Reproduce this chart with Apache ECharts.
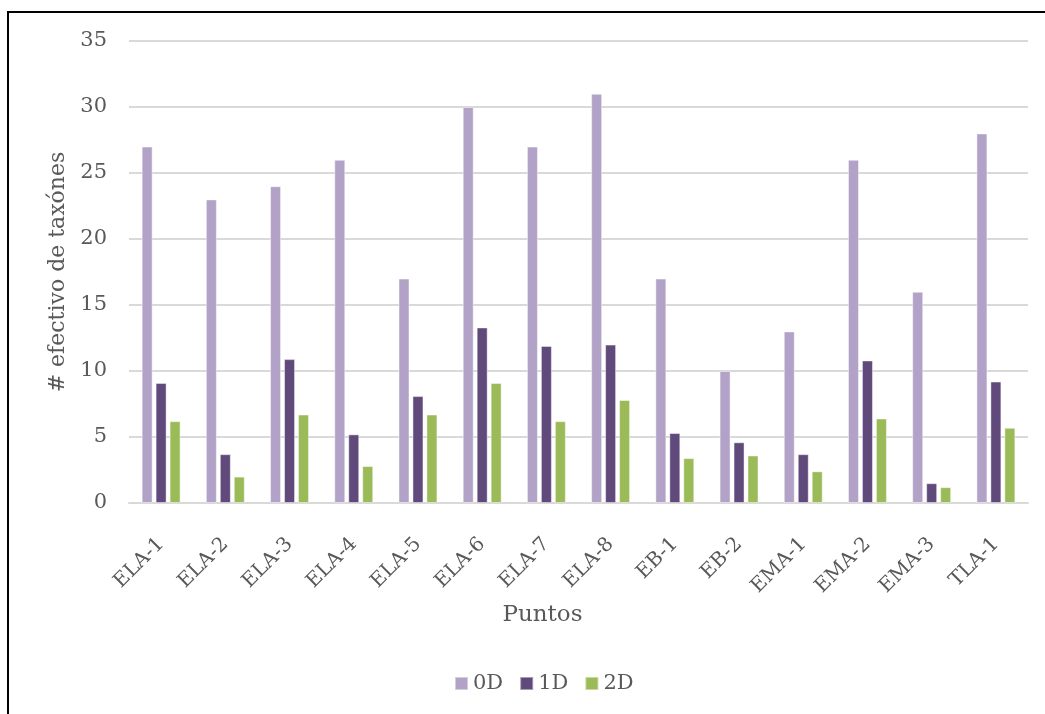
<!DOCTYPE html>
<html>
<head>
<meta charset="utf-8">
<script src="https://cdn.jsdelivr.net/npm/echarts@6/dist/echarts.min.js"></script>
<style>
  html, body { margin: 0; padding: 0; background: #fff; }
  #chart { width: 1045px; height: 714px; }
</style>
</head>
<body>
<div id="chart"></div>
<script>
// datos
const puntos = ['ELA-1', 'ELA-2', 'ELA-3', 'ELA-4', 'ELA-5', 'ELA-6', 'ELA-7', 'ELA-8', 'EB-1', 'EB-2', 'EMA-1', 'EMA-2', 'EMA-3', 'TLA-1'];
const d0 = [27, 23, 24, 26, 17, 30, 27, 31, 17, 10, 13, 26, 16, 28];
const d1 = [9.1, 3.7, 10.9, 5.2, 8.1, 13.3, 11.9, 12.0, 5.3, 4.6, 3.7, 10.8, 1.5, 9.2];
const d2 = [6.2, 2.0, 6.7, 2.8, 6.7, 9.1, 6.2, 7.8, 3.4, 3.6, 2.4, 6.4, 1.2, 5.7];

const font = '"DejaVu Serif", serif';
const gris = '#595959';

let myChart = echarts.init(document.getElementById('chart'));

const serie = (name, data, color) => ({
  name: name,
  type: 'bar',
  data: data,
  barWidth: 11,
  barGap: '27%',
  itemStyle: { color: color, borderColor: 'rgba(255,255,255,0.45)', borderWidth: 1 }
});

let option = {
  animation: false,
  backgroundColor: '#fff',
  textStyle: { fontFamily: font, color: gris },
  grid: { left: 129, right: 17, top: 41, bottom: 211 },
  legend: {
    left: 449,
    top: 668,
    itemWidth: 13,
    itemHeight: 13,
    itemGap: 16,
    icon: 'rect',
    textStyle: { fontFamily: font, fontSize: 21, color: gris },
    data: ['0D', '1D', '2D']
  },
  xAxis: {
    type: 'category',
    data: puntos,
    name: 'Puntos',
    nameLocation: 'middle',
    nameGap: 92,
    nameTextStyle: { fontFamily: font, fontSize: 23, color: gris, padding: [0, 72, 0, 0] },
    axisLine: { lineStyle: { color: '#d9d9d9', width: 2 } },
    axisTick: { show: false },
    axisLabel: { rotate: 45, margin: 38, fontFamily: font, fontSize: 20, color: gris, interval: 0 }
  },
  yAxis: {
    type: 'value',
    min: 0,
    max: 35,
    interval: 5,
    name: '# efectivo de taxónes',
    nameLocation: 'middle',
    nameGap: 60,
    nameTextStyle: { fontFamily: font, fontSize: 22, color: gris },
    axisLine: { show: false },
    axisTick: { show: false },
    axisLabel: { margin: 22, fontFamily: font, fontSize: 21, color: gris },
    splitLine: { lineStyle: { color: '#d9d9d9', width: 2 } }
  },
  graphic: [{
    type: 'rect',
    shape: { x: 8, y: 12, width: 1200, height: 900 },
    style: { fill: 'none', stroke: '#000', lineWidth: 2 },
    silent: true
  }],
  series: [
    serie('0D', d0, '#b3a2c7'),
    serie('1D', d1, '#604a7b'),
    serie('2D', d2, '#9bbb59')
  ]
};

myChart.setOption(option);
</script>
</body>
</html>
